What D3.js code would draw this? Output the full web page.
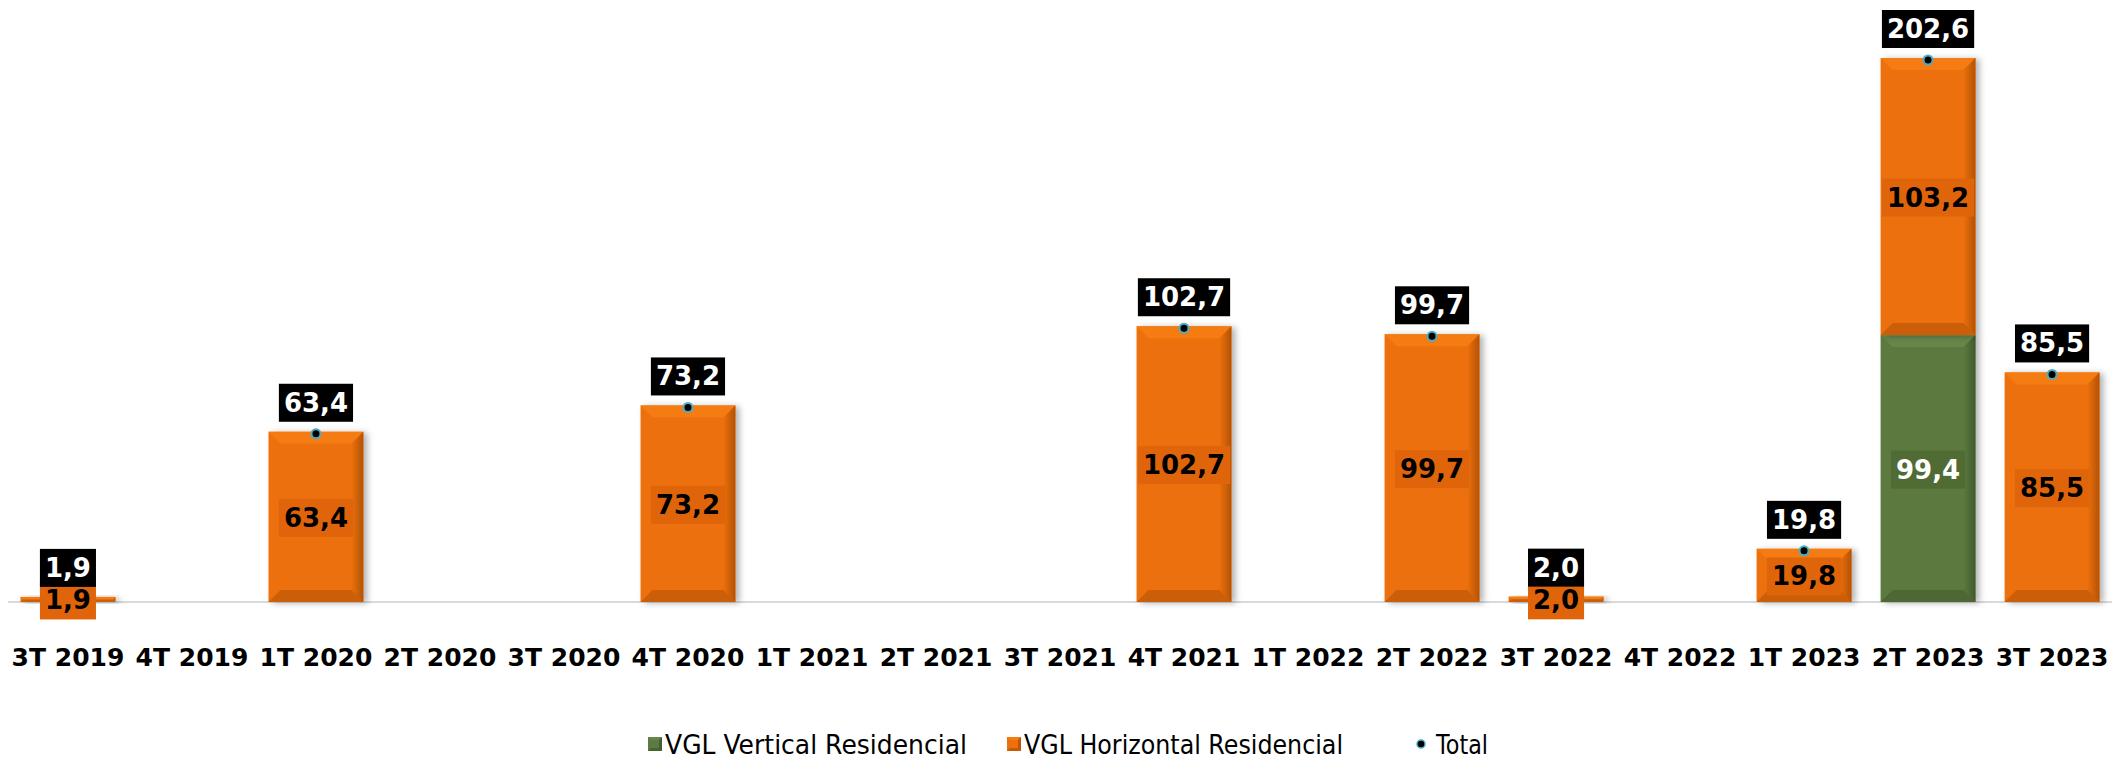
<!DOCTYPE html>
<html>
<head>
<meta charset="utf-8">
<script src="https://cdn.jsdelivr.net/npm/d3@7"></script>
<style>
  body { margin: 0; background: #fff; }
  svg { display: block; }
</style>
</head>
<body>
<svg id="vis" width="2112" height="759"></svg>
<script>
// Datos
const TRIMESTRES = ["3T 2019", "4T 2019", "1T 2020", "2T 2020", "3T 2020", "4T 2020",
  "1T 2021", "2T 2021", "3T 2021", "4T 2021", "1T 2022", "2T 2022", "3T 2022",
  "4T 2022", "1T 2023", "2T 2023", "3T 2023"];
const VERTICAL = [0, 0, 0, 0, 0, 0, 0, 0, 0, 0, 0, 0, 0, 0, 0, 99.4, 0];
const HORIZONTAL = [1.9, 0, 63.4, 0, 0, 73.2, 0, 0, 0, 102.7, 0, 99.7, 2.0, 0, 19.8, 103.2, 85.5];
const SERIES = ["VGL Vertical Residencial", "VGL Horizontal Residencial", "Total"];

const SVG = d3.select("#vis");
const fmt = v => v.toFixed(1).replace(".", ",");

const x = d3.scaleBand().domain(TRIMESTRES).range([6, 2114]).paddingInner(0.235).paddingOuter(0.117);
const y = d3.scaleLinear().domain([0, 224.2]).range([602, 0]);

const colores = {
  v: { base: "#5c7a41", light: "#66864a", dark: "#3d5429", label: "#506b34", text: "#fff" },
  h: { base: "#ec700b", light: "#f57c12", dark: "#a94d05", label: "#e0650a", text: "#000" }
};

// sombra
const defs = SVG.append("defs");
const f = defs.append("filter").attr("id", "sombra").attr("x", "-20%").attr("y", "-20%").attr("width", "140%").attr("height", "140%");
f.append("feDropShadow").attr("dx", 4).attr("dy", 1).attr("stdDeviation", 3).attr("flood-color", "#000").attr("flood-opacity", 0.3);

// gradiente del borde derecho
["v", "h"].forEach(k => {
  const gr = defs.append("linearGradient").attr("id", "der-" + k).attr("x1", 0).attr("x2", 1).attr("y1", 0).attr("y2", 0);
  gr.append("stop").attr("offset", 0).attr("stop-color", colores[k].base);
  gr.append("stop").attr("offset", 1).attr("stop-color", colores[k].dark);
});

// linea base
SVG.append("line")
  .attr("x1", 8).attr("x2", 2112)
  .attr("y1", y(0)).attr("y2", y(0))
  .attr("stroke", "#d9d9d9").attr("stroke-width", 2);

// Construir segmentos apilados
const segmentos = [];
TRIMESTRES.forEach((t, i) => {
  let acum = 0;
  if (VERTICAL[i] > 0) {
    segmentos.push({ t, y0: acum, y1: acum + VERTICAL[i], v: VERTICAL[i], c: colores.v, k: "v" });
    acum += VERTICAL[i];
  }
  if (HORIZONTAL[i] > 0) {
    segmentos.push({ t, y0: acum, y1: acum + HORIZONTAL[i], v: HORIZONTAL[i], c: colores.h, k: "h" });
  }
});

// Barras con bisel
const barras = SVG.selectAll(".barra")
  .data(segmentos)
  .join("g")
  .attr("class", "barra");

barras.each(function (d) {
  const g = d3.select(this);
  const x0 = x(d.t), w = x.bandwidth();
  const yTop = y(d.y1), yBot = y(d.y0), h = yBot - yTop;
  const b = Math.min(12, h / 2, w / 2);
  g.append("rect").attr("x", x0).attr("y", yTop).attr("width", w).attr("height", h)
    .attr("fill", d.c.base).attr("filter", "url(#sombra)");
  const x1 = x0 + w;
  // arriba
  g.append("polygon").attr("points", [[x0, yTop], [x1, yTop], [x1 - b, yTop + b], [x0 + b, yTop + b]].join(" "))
    .attr("fill", d.c.light);
  // derecha
  g.append("polygon").attr("points", [[x1, yTop], [x1, yBot], [x1 - b, yBot - b], [x1 - b, yTop + b]].join(" "))
    .attr("fill", `url(#der-${d.k})`).attr("opacity", 0.85);
  // abajo
  g.append("polygon").attr("points", [[x0, yBot], [x1, yBot], [x1 - b, yBot - b], [x0 + b, yBot - b]].join(" "))
    .attr("fill", d.c.dark).attr("opacity", 0.5);
});

// Puntos del total (debajo de las etiquetas)
const totales = TRIMESTRES.map((t, i) => ({ t, v: VERTICAL[i] + HORIZONTAL[i] })).filter(d => d.v > 0);

SVG.selectAll(".punto")
  .data(totales)
  .join("circle")
  .attr("class", "punto")
  .attr("cx", d => x(d.t) + x.bandwidth() / 2)
  .attr("cy", d => y(d.v) + 2)
  .attr("r", 4.5)
  .attr("fill", "#000").attr("stroke", "#4bacc6").attr("stroke-width", 2);

// Etiquetas
function etiqueta(g, cx, cy, texto, fondo, color) {
  const t = g.append("text")
    .attr("x", cx).attr("y", cy)
    .attr("text-anchor", "middle").attr("dominant-baseline", "central")
    .attr("font-family", "DejaVu Sans").attr("font-weight", "bold").attr("font-size", 26)
    .attr("fill", color).text(texto);
  const bb = t.node().getBBox();
  g.insert("rect", "text")
    .attr("x", cx - bb.width / 2 - 5).attr("y", cy - 19)
    .attr("width", bb.width + 10).attr("height", 38)
    .attr("fill", fondo);
}

segmentos.forEach(d => {
  const g = SVG.append("g");
  etiqueta(g, x(d.t) + x.bandwidth() / 2, (y(d.y0) + y(d.y1)) / 2 + 1, fmt(d.v), d.c.label, d.c.text);
});

totales.forEach(d => {
  const g = SVG.append("g");
  etiqueta(g, x(d.t) + x.bandwidth() / 2, y(d.v) - 29, fmt(d.v), "#000", "#fff");
});

// Eje X
const eje = SVG.append("g")
  .attr("transform", `translate(0, ${y(0)})`)
  .call(d3.axisBottom(x).tickSize(0).tickPadding(46));
eje.select(".domain").remove();
eje.selectAll("text")
  .attr("font-family", "DejaVu Sans").attr("font-weight", "bold").attr("font-size", 25)
  .attr("fill", "#000");

// Leyenda
const leyenda = [
  { nombre: SERIES[0], tipo: "rect", c: colores.v, x: 648, tw: 302 },
  { nombre: SERIES[1], tipo: "rect", c: colores.h, x: 1007, tw: 319 },
  { nombre: SERIES[2], tipo: "dot", x: 1415, tw: 52 }
];
const L = SVG.selectAll(".ley").data(leyenda).join("g").attr("class", "ley")
  .attr("transform", d => `translate(${d.x}, 744)`);
L.each(function (d) {
  const g = d3.select(this);
  if (d.tipo === "rect") {
    g.append("rect").attr("x", 0).attr("y", -7).attr("width", 14).attr("height", 14).attr("fill", d.c.base);
    g.append("polygon").attr("points", "0,-7 14,-7 11,-4 3,-4").attr("fill", d.c.light);
    g.append("polygon").attr("points", "14,-7 14,7 11,4 11,-4").attr("fill", d.c.dark).attr("opacity", 0.7);
    g.append("polygon").attr("points", "0,7 14,7 11,4 3,4").attr("fill", d.c.dark).attr("opacity", 0.6);
  } else {
    g.append("circle").attr("cx", 6).attr("cy", 0).attr("r", 4).attr("fill", "#000")
      .attr("stroke", "#4bacc6").attr("stroke-width", 1.5);
  }
  g.append("text")
    .attr("x", d.tipo === "rect" ? 17 : 21).attr("y", 10)
    .attr("font-family", "DejaVu Sans").attr("font-size", 26)
    .attr("textLength", d.tw).attr("lengthAdjust", "spacingAndGlyphs")
    .attr("fill", "#000").text(d.nombre);
});
</script>
</body>
</html>
